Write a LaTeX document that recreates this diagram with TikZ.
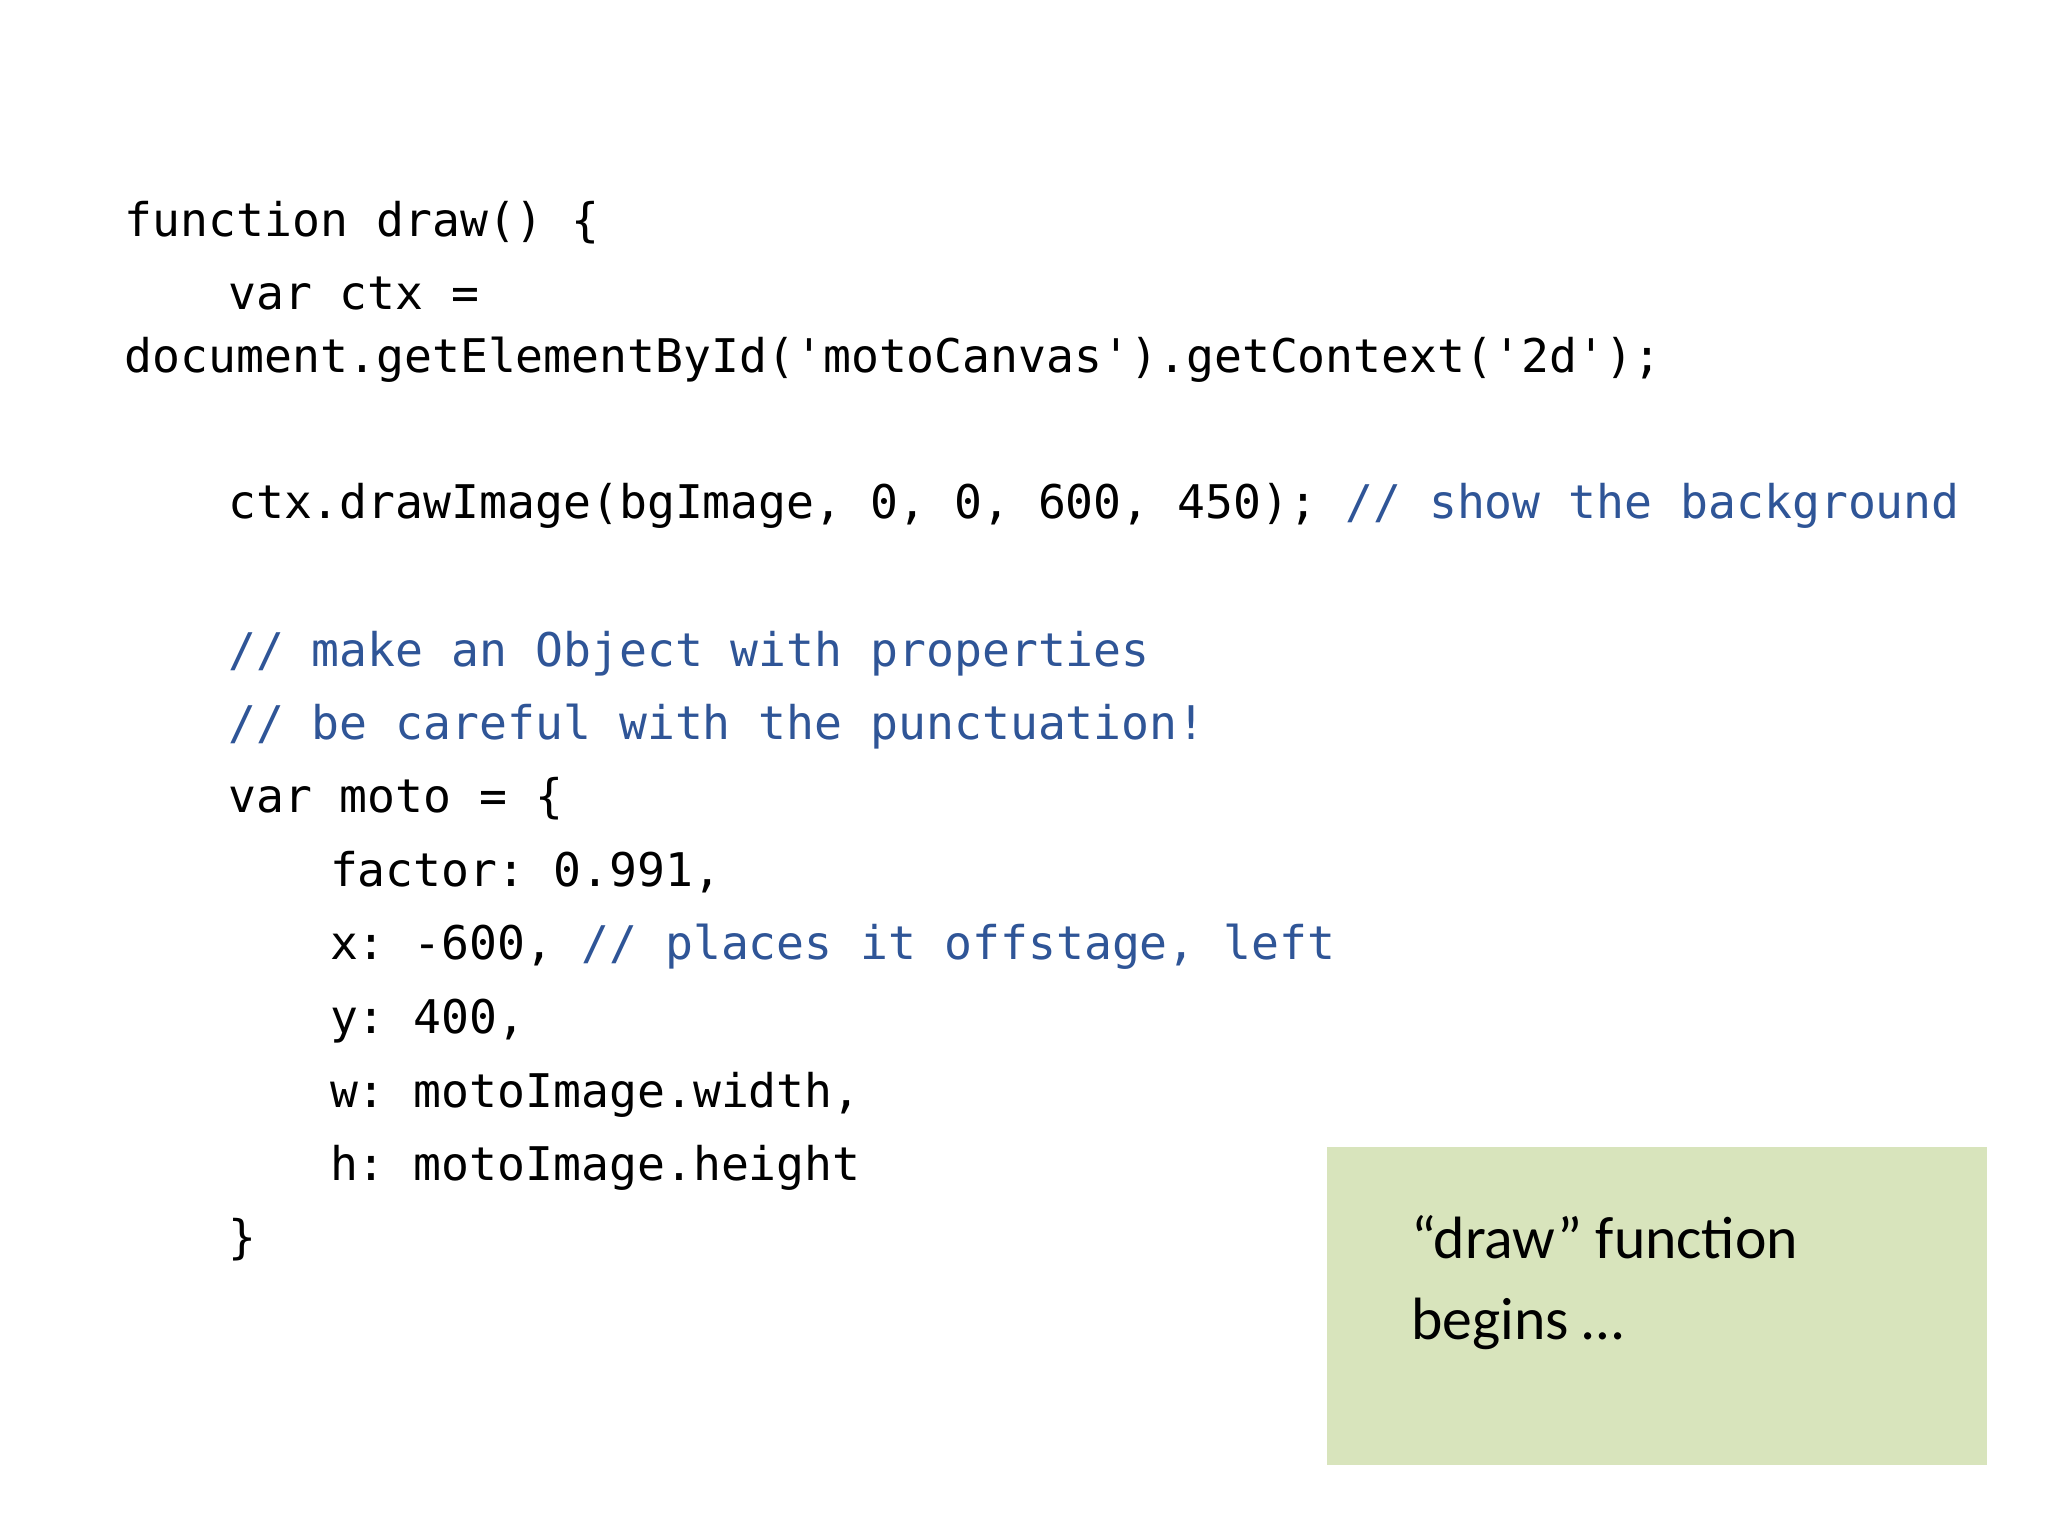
\documentclass[tikz,border=0pt]{standalone}
\usepackage{fontspec}
\setmonofont{DejaVu Sans Mono}
\newfontfamily\callfont{Carlito}
\definecolor{cmt}{HTML}{2F5597}
\definecolor{boxg}{HTML}{D8E4BC}
\begin{document}
\begin{tikzpicture}[x=0.01cm,y=-0.01cm,
  code/.style={anchor=base west,inner sep=0pt,font=\ttfamily\fontsize{10.1}{12}\selectfont}]
\useasboundingbox (0,0) rectangle (1568,1176);
\fill[white] (0,0) rectangle (1568,1176);
\node[code] (l1) at (95,181) {function draw() \{};
\node[code] (l2) at (174,237) {var ctx =};
\node[code] (l3) at (95,285) {document.getElementById('motoCanvas').getContext('2d');};
\node[code] (l4) at (174,397) {ctx.drawImage(bgImage, 0, 0, 600, 450); \textcolor{cmt}{// show the background}};
\node[code,text=cmt] (l5) at (174,510) {// make an Object with properties};
\node[code,text=cmt] (l6) at (174,566) {// be careful with the punctuation!};
\node[code] (l7) at (174,622) {var moto = \{};
\node[code] (l8) at (252,679) {factor: 0.991,};
\node[code] (l9) at (252,735) {x: -600, \textcolor{cmt}{// places it offstage, left}};
\node[code] (l10) at (252,791) {y: 400,};
\node[code] (l11) at (252,848) {w: motoImage.width,};
\node[code] (l12) at (252,904) {h: motoImage.height};
\node[code] (l13) at (174,960) {\}};
\fill[boxg] (1016,878) rectangle (1521,1122);
\node[anchor=north west,inner sep=0pt,align=left,font=\callfont\fontsize{13}{17.6}\selectfont] (call) at (1080,930) {“draw” function\\begins …};
\end{tikzpicture}
\end{document}
